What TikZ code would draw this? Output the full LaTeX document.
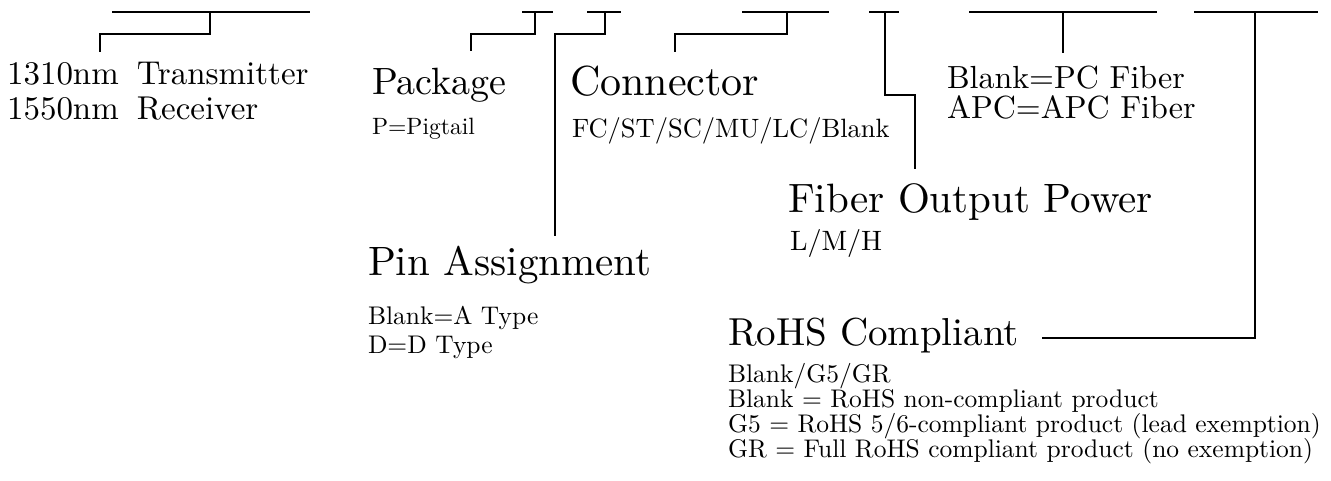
\documentclass[tikz,border=0pt]{standalone}
\usepackage{fontspec}
\setmainfont{lmroman10-regular}[Extension=.otf]
\begin{document}
\begin{tikzpicture}[x=1pt,y=-1pt,
  conn/.style={line width=2.2pt,line cap=rect,line join=miter},
  lbl/.style={inner sep=0pt,outer sep=0pt,anchor=base west,text=black},
  title/.style={lbl,font=\fontsize{41}{44}\selectfont},
  code/.style={lbl,font=\fontsize{33}{36}\selectfont},
  desc/.style={lbl,font=\fontsize{25.5}{29}\selectfont}]
\useasboundingbox (0,0) rectangle (1331,480);
% texts
\node[code] (wl1) at (7,84) {1310nm\hspace{18pt}Transmitter};
\node[code] (wl2) at (7,119) {1550nm\hspace{18pt}Receiver};
\node[title,font=\fontsize{38}{44}\selectfont] (pkg) at (372,94) {Package};
\node[desc,font=\fontsize{23.6}{28}\selectfont] (pkgd) at (372,134) {P=Pigtail};
\node[title,font=\fontsize{42}{44}\selectfont] (con) at (570,95) {Connector};
\node[desc,font=\fontsize{26.5}{30}\selectfont] (cond) at (572,137) {FC/ST/SC/MU/LC/Blank};
\node[code,font=\fontsize{32}{36}\selectfont] (pc) at (947,88) {Blank=PC Fiber};
\node[code,font=\fontsize{32}{36}\selectfont] (apc) at (947,118) {APC=APC Fiber};
\node[title] (fop) at (788,212) {Fiber Output Power};
\node[desc,font=\fontsize{28}{32}\selectfont] (fopd) at (790,250) {L/M/H};
\node[title] (pin) at (368,275) {Pin Assignment};
\node[desc] (pina) at (368,324) {Blank=A Type};
\node[desc] (pinb) at (368,353) {D=D Type};
\node[title,font=\fontsize{39}{44}\selectfont] (rohs) at (728,345) {RoHS Compliant};
\node[desc] (r1) at (728,382) {Blank/G5/GR};
\node[desc] (r2) at (728,407) {Blank = RoHS non-compliant product};
\node[desc] (r3) at (728,432) {G5 = RoHS 5/6-compliant product (lead exemption)};
\node[desc] (r4) at (728,457) {GR = Full RoHS compliant product (no exemption)};
% top bars
\coordinate (a1) at (113,12); \coordinate (a2) at (309,12); \coordinate (am) at (210,12);
\coordinate (b1) at (523,12); \coordinate (b2) at (552,12); \coordinate (bm) at (535,12);
\coordinate (c1) at (588,12); \coordinate (c2) at (620,12); \coordinate (cm) at (605,12);
\coordinate (d1) at (743,12); \coordinate (d2) at (828,12); \coordinate (dm) at (787,12);
\coordinate (e1) at (870,12); \coordinate (e2) at (898,12); \coordinate (em) at (885,12);
\coordinate (f1) at (970,12); \coordinate (f2) at (1156,12); \coordinate (fm) at (1063,12);
\coordinate (g1) at (1195,12); \coordinate (g2) at (1317,12); \coordinate (gm) at (1255,12);
\draw[conn] (a1) -- (a2) (b1) -- (b2) (c1) -- (c2) (d1) -- (d2) (e1) -- (e2) (f1) -- (f2) (g1) -- (g2);
% connectors
\draw[conn] (am) -- (210,34) -- (100,34) -- (100,51);
\draw[conn] (bm) -- (535,34) -- (471,34) -- (471,50);
\draw[conn] (cm) -- (605,34) -- (555,34) -- (555,235);
\draw[conn] (dm) -- (787,34) -- (675,34) -- (675,51);
\draw[conn] (em) -- (885,95) -- (915,95) -- (915,168);
\draw[conn] (fm) -- (1063,52);
\draw[conn] (gm) -- (1255,338) -- (1043,338);
\end{tikzpicture}
\end{document}
